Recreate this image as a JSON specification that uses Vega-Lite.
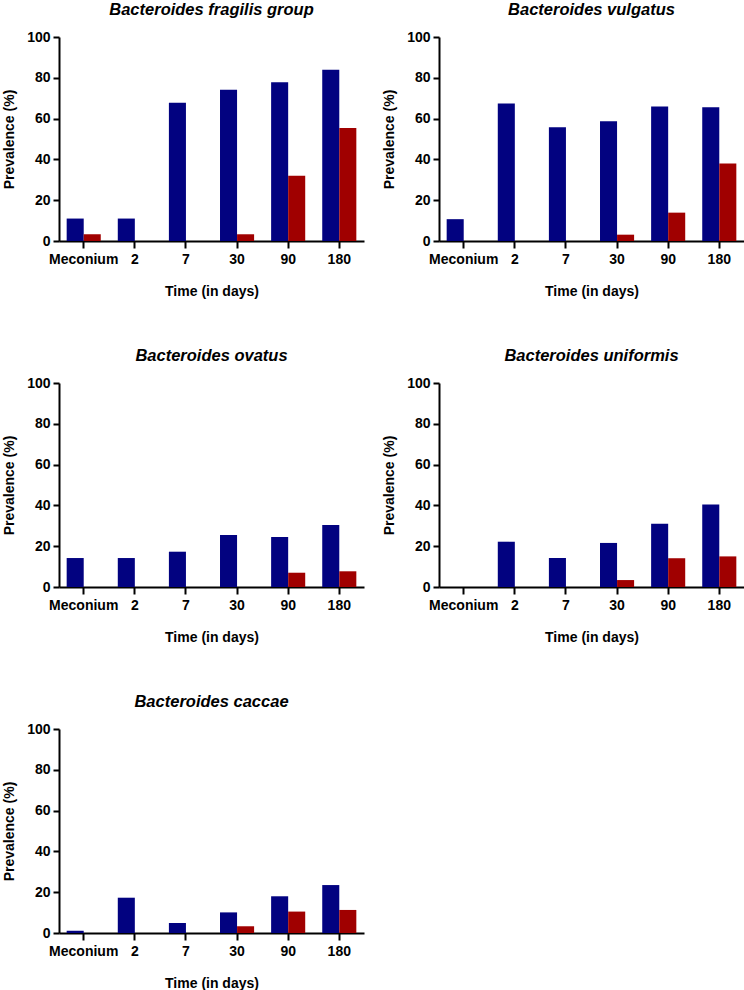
{
  "$schema": "https://vega.github.io/schema/vega-lite/v6.json",
  "padding": {"left": 2, "top": 1, "right": 2, "bottom": 0},
  "background": "white",
  "config": {
    "font": "Liberation Sans",
    "view": {"stroke": null},
    "title": {"fontSize": 16.5, "fontWeight": "bold", "fontStyle": "italic", "color": "black", "offset": 12, "anchor": "middle"},
    "axis": {
      "domainColor": "black", "domainWidth": 2, "tickColor": "black", "tickWidth": 2,
      "labelFont": "Liberation Sans", "labelFontSize": 14, "labelFontWeight": "bold", "labelColor": "black",
      "titleFont": "Liberation Sans", "titleFontSize": 14, "titleFontWeight": "bold", "titleColor": "black",
      "grid": false
    },
    "bar": {"stroke": null}
  },
  "datasets": {
    "prev": [
      {"panel": "fragilis", "time": "Meconium", "grp": "A", "value": 11},
      {"panel": "fragilis", "time": "Meconium", "grp": "B", "value": 3.3},
      {"panel": "fragilis", "time": "2", "grp": "A", "value": 11},
      {"panel": "fragilis", "time": "2", "grp": "B", "value": 0},
      {"panel": "fragilis", "time": "7", "grp": "A", "value": 67.8},
      {"panel": "fragilis", "time": "7", "grp": "B", "value": 0},
      {"panel": "fragilis", "time": "30", "grp": "A", "value": 74.2},
      {"panel": "fragilis", "time": "30", "grp": "B", "value": 3.3},
      {"panel": "fragilis", "time": "90", "grp": "A", "value": 77.8},
      {"panel": "fragilis", "time": "90", "grp": "B", "value": 32},
      {"panel": "fragilis", "time": "180", "grp": "A", "value": 84},
      {"panel": "fragilis", "time": "180", "grp": "B", "value": 55.4},
      {"panel": "vulgatus", "time": "Meconium", "grp": "A", "value": 10.7},
      {"panel": "vulgatus", "time": "Meconium", "grp": "B", "value": 0},
      {"panel": "vulgatus", "time": "2", "grp": "A", "value": 67.4},
      {"panel": "vulgatus", "time": "2", "grp": "B", "value": 0},
      {"panel": "vulgatus", "time": "7", "grp": "A", "value": 55.7},
      {"panel": "vulgatus", "time": "7", "grp": "B", "value": 0},
      {"panel": "vulgatus", "time": "30", "grp": "A", "value": 58.7},
      {"panel": "vulgatus", "time": "30", "grp": "B", "value": 3.1},
      {"panel": "vulgatus", "time": "90", "grp": "A", "value": 65.9},
      {"panel": "vulgatus", "time": "90", "grp": "B", "value": 13.9},
      {"panel": "vulgatus", "time": "180", "grp": "A", "value": 65.6},
      {"panel": "vulgatus", "time": "180", "grp": "B", "value": 38},
      {"panel": "ovatus", "time": "Meconium", "grp": "A", "value": 14.2},
      {"panel": "ovatus", "time": "Meconium", "grp": "B", "value": 0},
      {"panel": "ovatus", "time": "2", "grp": "A", "value": 14.2},
      {"panel": "ovatus", "time": "2", "grp": "B", "value": 0},
      {"panel": "ovatus", "time": "7", "grp": "A", "value": 17.3},
      {"panel": "ovatus", "time": "7", "grp": "B", "value": 0},
      {"panel": "ovatus", "time": "30", "grp": "A", "value": 25.5},
      {"panel": "ovatus", "time": "30", "grp": "B", "value": 0},
      {"panel": "ovatus", "time": "90", "grp": "A", "value": 24.5},
      {"panel": "ovatus", "time": "90", "grp": "B", "value": 7},
      {"panel": "ovatus", "time": "180", "grp": "A", "value": 30.4},
      {"panel": "ovatus", "time": "180", "grp": "B", "value": 7.7},
      {"panel": "uniformis", "time": "Meconium", "grp": "A", "value": 0},
      {"panel": "uniformis", "time": "Meconium", "grp": "B", "value": 0},
      {"panel": "uniformis", "time": "2", "grp": "A", "value": 22.2},
      {"panel": "uniformis", "time": "2", "grp": "B", "value": 0},
      {"panel": "uniformis", "time": "7", "grp": "A", "value": 14.2},
      {"panel": "uniformis", "time": "7", "grp": "B", "value": 0},
      {"panel": "uniformis", "time": "30", "grp": "A", "value": 21.6},
      {"panel": "uniformis", "time": "30", "grp": "B", "value": 3.4},
      {"panel": "uniformis", "time": "90", "grp": "A", "value": 31},
      {"panel": "uniformis", "time": "90", "grp": "B", "value": 14.1},
      {"panel": "uniformis", "time": "180", "grp": "A", "value": 40.5},
      {"panel": "uniformis", "time": "180", "grp": "B", "value": 15},
      {"panel": "caccae", "time": "Meconium", "grp": "A", "value": 1.1},
      {"panel": "caccae", "time": "Meconium", "grp": "B", "value": 0},
      {"panel": "caccae", "time": "2", "grp": "A", "value": 17.3},
      {"panel": "caccae", "time": "2", "grp": "B", "value": 0},
      {"panel": "caccae", "time": "7", "grp": "A", "value": 4.9},
      {"panel": "caccae", "time": "7", "grp": "B", "value": 0},
      {"panel": "caccae", "time": "30", "grp": "A", "value": 10.1},
      {"panel": "caccae", "time": "30", "grp": "B", "value": 3.3},
      {"panel": "caccae", "time": "90", "grp": "A", "value": 18},
      {"panel": "caccae", "time": "90", "grp": "B", "value": 10.5},
      {"panel": "caccae", "time": "180", "grp": "A", "value": 23.5},
      {"panel": "caccae", "time": "180", "grp": "B", "value": 11.3}
    ]
  },
  "columns": 2,
  "spacing": {"row": 49, "column": 18},
  "concat": [
    {
      "title": "Bacteroides fragilis group",
      "data": {"name": "prev"},
      "transform": [{"filter": "datum.panel == 'fragilis'"}],
      "width": 305, "height": 204,
      "mark": {"type": "bar"},
      "encoding": {
        "x": {"field": "time", "type": "nominal", "sort": ["Meconium", "2", "7", "30", "90", "180"], "scale": {"paddingInner": 0.333, "paddingOuter": 0.15}, "axis": {"title": "Time (in days)", "labelAngle": 0, "tickSize": 7, "labelPadding": 4, "titlePadding": 18}},
        "xOffset": {"field": "grp", "type": "nominal"},
        "y": {"field": "value", "type": "quantitative", "scale": {"domain": [0, 100]}, "axis": {"title": "Prevalence (%)", "values": [0, 20, 40, 60, 80, 100], "tickSize": 6, "labelPadding": 3, "titlePadding": 10}},
        "color": {"field": "grp", "type": "nominal", "scale": {"domain": ["A", "B"], "range": ["#020280", "#a00000"]}, "legend": null}
      }
    },
    {
      "title": "Bacteroides vulgatus",
      "data": {"name": "prev"},
      "transform": [{"filter": "datum.panel == 'vulgatus'"}],
      "width": 305, "height": 204,
      "mark": {"type": "bar"},
      "encoding": {
        "x": {"field": "time", "type": "nominal", "sort": ["Meconium", "2", "7", "30", "90", "180"], "scale": {"paddingInner": 0.333, "paddingOuter": 0.15}, "axis": {"title": "Time (in days)", "labelAngle": 0, "tickSize": 7, "labelPadding": 4, "titlePadding": 18}},
        "xOffset": {"field": "grp", "type": "nominal"},
        "y": {"field": "value", "type": "quantitative", "scale": {"domain": [0, 100]}, "axis": {"title": "Prevalence (%)", "values": [0, 20, 40, 60, 80, 100], "tickSize": 6, "labelPadding": 3, "titlePadding": 10}},
        "color": {"field": "grp", "type": "nominal", "scale": {"domain": ["A", "B"], "range": ["#020280", "#a00000"]}, "legend": null}
      }
    },
    {
      "title": "Bacteroides ovatus",
      "data": {"name": "prev"},
      "transform": [{"filter": "datum.panel == 'ovatus'"}],
      "width": 305, "height": 204,
      "mark": {"type": "bar"},
      "encoding": {
        "x": {"field": "time", "type": "nominal", "sort": ["Meconium", "2", "7", "30", "90", "180"], "scale": {"paddingInner": 0.333, "paddingOuter": 0.15}, "axis": {"title": "Time (in days)", "labelAngle": 0, "tickSize": 7, "labelPadding": 4, "titlePadding": 18}},
        "xOffset": {"field": "grp", "type": "nominal"},
        "y": {"field": "value", "type": "quantitative", "scale": {"domain": [0, 100]}, "axis": {"title": "Prevalence (%)", "values": [0, 20, 40, 60, 80, 100], "tickSize": 6, "labelPadding": 3, "titlePadding": 10}},
        "color": {"field": "grp", "type": "nominal", "scale": {"domain": ["A", "B"], "range": ["#020280", "#a00000"]}, "legend": null}
      }
    },
    {
      "title": "Bacteroides uniformis",
      "data": {"name": "prev"},
      "transform": [{"filter": "datum.panel == 'uniformis'"}],
      "width": 305, "height": 204,
      "mark": {"type": "bar"},
      "encoding": {
        "x": {"field": "time", "type": "nominal", "sort": ["Meconium", "2", "7", "30", "90", "180"], "scale": {"paddingInner": 0.333, "paddingOuter": 0.15}, "axis": {"title": "Time (in days)", "labelAngle": 0, "tickSize": 7, "labelPadding": 4, "titlePadding": 18}},
        "xOffset": {"field": "grp", "type": "nominal"},
        "y": {"field": "value", "type": "quantitative", "scale": {"domain": [0, 100]}, "axis": {"title": "Prevalence (%)", "values": [0, 20, 40, 60, 80, 100], "tickSize": 6, "labelPadding": 3, "titlePadding": 10}},
        "color": {"field": "grp", "type": "nominal", "scale": {"domain": ["A", "B"], "range": ["#020280", "#a00000"]}, "legend": null}
      }
    },
    {
      "title": "Bacteroides caccae",
      "data": {"name": "prev"},
      "transform": [{"filter": "datum.panel == 'caccae'"}],
      "width": 305, "height": 204,
      "mark": {"type": "bar"},
      "encoding": {
        "x": {"field": "time", "type": "nominal", "sort": ["Meconium", "2", "7", "30", "90", "180"], "scale": {"paddingInner": 0.333, "paddingOuter": 0.15}, "axis": {"title": "Time (in days)", "labelAngle": 0, "tickSize": 7, "labelPadding": 4, "titlePadding": 18}},
        "xOffset": {"field": "grp", "type": "nominal"},
        "y": {"field": "value", "type": "quantitative", "scale": {"domain": [0, 100]}, "axis": {"title": "Prevalence (%)", "values": [0, 20, 40, 60, 80, 100], "tickSize": 6, "labelPadding": 3, "titlePadding": 10}},
        "color": {"field": "grp", "type": "nominal", "scale": {"domain": ["A", "B"], "range": ["#020280", "#a00000"]}, "legend": null}
      }
    }
  ]
}
